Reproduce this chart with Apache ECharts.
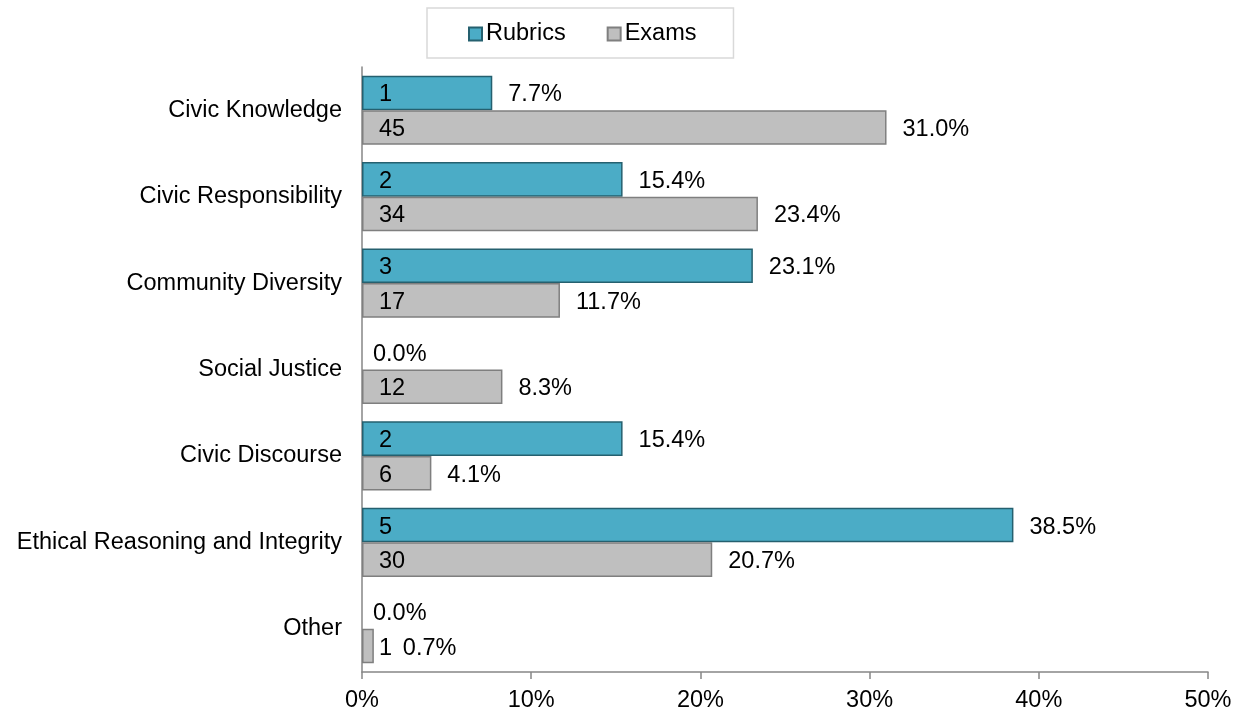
<!DOCTYPE html>
<html>
<head>
<meta charset="utf-8">
<script src="https://cdn.jsdelivr.net/npm/echarts@6/dist/echarts.min.js"></script>
<style>
html,body{margin:0;padding:0;background:#fff;}
#chart{width:1244px;height:712px;}
</style>
</head>
<body>
<div id="chart"></div>
<script>
const categories = ["Civic Knowledge","Civic Responsibility","Community Diversity","Social Justice","Civic Discourse","Ethical Reasoning and Integrity","Other"];
const rubricsPct = [7.7, 15.4, 23.1, 0.0, 15.4, 38.5, 0.0];
const rubricsCount = [1, 2, 3, 0, 2, 5, 0];
const examsPct = [31.0, 23.4, 11.7, 8.3, 4.1, 20.7, 0.7];
const examsCount = [45, 34, 17, 12, 6, 30, 1];
const xTicks = [0, 10, 20, 30, 40, 50];

const FONT = 'Liberation Sans, Arial, sans-serif';
const FS = 23.5;
const TXT = '#000';

function pctSeries(name, vals, counts, color, border) {
  return {
    name: name, type: 'bar', yAxisIndex: 0,
    barGap: '0%', barCategoryGap: '20%',
    itemStyle: { color: color, borderColor: border, borderWidth: 1.5 },
    data: vals.map((v, i) => ({
      value: v,
      itemStyle: v === 0 ? { borderWidth: 0 } : undefined,
      label: { distance: (v < 2 && counts[i] > 0) ? 29 : (v === 0 ? 11 : 16) }
    })),
    label: {
      show: true, position: 'right', offset: [0, 2],
      fontFamily: FONT, fontSize: FS, color: TXT,
      formatter: p => p.value.toFixed(1) + '%'
    },
    emphasis: { disabled: true }
  };
}
function countSeries(name, vals, counts) {
  return {
    name: name + '_count', type: 'bar', yAxisIndex: 1,
    barGap: '0%', barCategoryGap: '20%',
    itemStyle: { color: 'rgba(0,0,0,0)' },
    silent: true,
    data: vals.map(v => v),
    label: {
      show: true, position: 'insideLeft', distance: 17, offset: [0, 2],
      fontFamily: FONT, fontSize: FS, color: TXT,
      formatter: p => counts[p.dataIndex] > 0 ? String(counts[p.dataIndex]) : ''
    },
    emphasis: { disabled: true }
  };
}

const chart = echarts.init(document.getElementById('chart'), null, { renderer: 'canvas' });
chart.setOption({
  animation: false,
  backgroundColor: '#fff',
  legend: {
    data: ['Rubrics', 'Exams'],
    left: 427, top: 8,
    padding: [14, 37, 12, 41],
    itemWidth: 13, itemHeight: 13, itemGap: 41,
    borderColor: '#d9d9d9', borderWidth: 1.5,
    textStyle: { fontFamily: FONT, fontSize: FS, color: TXT, padding: [0, 0, 0, -1] },
    icon: 'rect'
  },
  grid: { left: 362, right: 36, top: 67, bottom: 40, containLabel: false, outerBoundsMode: 'none' },
  xAxis: {
    type: 'value', min: 0, max: 50, interval: 10,
    axisLine: { show: true, lineStyle: { color: '#868686', width: 1.5 } },
    axisTick: { show: true, length: 7, lineStyle: { color: '#868686', width: 1.5 } },
    splitLine: { show: false },
    axisLabel: { fontFamily: FONT, fontSize: FS, color: TXT, margin: 17,
      formatter: v => v + '%' }
  },
  yAxis: [{
    type: 'category', data: categories, inverse: true,
    axisLine: { show: true, lineStyle: { color: '#868686', width: 1.5 } },
    axisTick: { show: false },
    axisLabel: { fontFamily: FONT, fontSize: FS, color: TXT, margin: 20 }
  }, {
    type: 'category', data: categories, inverse: true, show: false
  }],
  series: [
    pctSeries('Rubrics', rubricsPct, rubricsCount, '#4bacc6', '#25606f'),
    pctSeries('Exams', examsPct, examsCount, '#bfbfbf', '#7f7f7f'),
    countSeries('Rubrics', rubricsPct, rubricsCount),
    countSeries('Exams', examsPct, examsCount)
  ]
});
</script>
</body>
</html>
